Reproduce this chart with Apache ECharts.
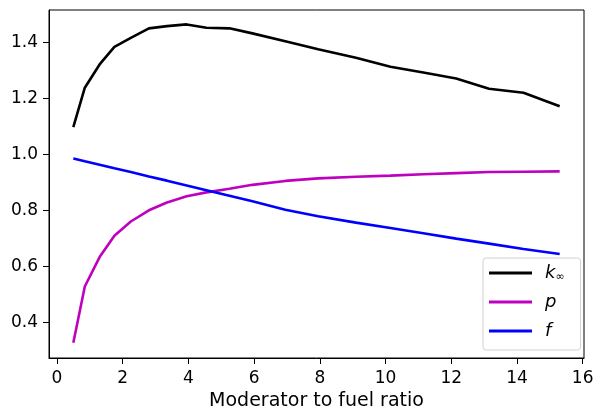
<!DOCTYPE html>
<html>
<head>
<meta charset="utf-8">
<script src="https://cdn.jsdelivr.net/npm/echarts@6/dist/echarts.min.js"></script>
<style>html,body{margin:0;padding:0;background:#fff}#c{width:599px;height:412px}</style>
</head>
<body>
<div id="c"></div>
<script>
const ratio = [0.5, 0.85, 1.3, 1.75, 2.25, 2.8, 3.35, 3.95, 4.55, 5.25, 5.95, 6.95, 7.95, 9.1, 10.15, 11.15, 12.15, 13.15, 14.2, 15.3];
const kInf = [1.098, 1.239, 1.322, 1.385, 1.417, 1.451, 1.459, 1.465, 1.453, 1.451, 1.433, 1.405, 1.376, 1.346, 1.314, 1.293, 1.272, 1.235, 1.221, 1.173];
const pVals = [0.328, 0.529, 0.634, 0.710, 0.761, 0.801, 0.829, 0.851, 0.865, 0.878, 0.892, 0.906, 0.915, 0.921, 0.925, 0.930, 0.934, 0.938, 0.939, 0.940];
const fVals = [0.986, 0.976, 0.964, 0.951, 0.938, 0.922, 0.907, 0.890, 0.873, 0.853, 0.833, 0.803, 0.780, 0.757, 0.738, 0.719, 0.700, 0.682, 0.663, 0.645];
const seriesNames = ['k∞', 'p', 'f'];
const xTicks = [0, 2, 4, 6, 8, 10, 12, 14, 16];
const yTicks = [0.4, 0.6, 0.8, 1.0, 1.2, 1.4];
const xLabel = 'Moderator to fuel ratio';

const font = 'DejaVu Sans';
const chart = echarts.init(document.getElementById('c'), null, {renderer: 'canvas'});
const pair = (ys) => ratio.map((x, i) => [x, ys[i]]);
const mk = (name, ys, color) => ({
  name, type: 'line', data: pair(ys), symbol: 'none', showSymbol: false,
  lineStyle: {color, width: 2.6}, itemStyle: {color}, animation: false
});
chart.setOption({
  animation: false,
  grid: {left: 49, right: 15, top: 10, bottom: 54, outerBoundsMode: 'none', containLabel: false, show: true, borderColor: '#000', borderWidth: 1, backgroundColor: 'transparent'},
  xAxis: {
    type: 'value', min: -0.24, max: 16.04,
    name: xLabel, nameLocation: 'middle', nameGap: 33,
    nameTextStyle: {fontFamily: font, fontSize: 19, color: '#000'},
    axisLine: {show: true, onZero: false, lineStyle: {color: '#000', width: 1}},
    axisTick: {show: true, length: 6, customValues: xTicks, lineStyle: {color: '#000', width: 1}},
    axisLabel: {customValues: xTicks, margin: 12, fontFamily: font, fontSize: 17, color: '#000'},
    splitLine: {show: false}
  },
  yAxis: {
    type: 'value', min: 0.2735, max: 1.5165,
    axisLine: {show: true, onZero: false, lineStyle: {color: '#000', width: 1}},
    axisTick: {show: true, length: 6, customValues: yTicks, lineStyle: {color: '#000', width: 1}},
    axisLabel: {customValues: yTicks, margin: 11, fontFamily: font, fontSize: 17, color: '#000', formatter: v => v.toFixed(1)},
    splitLine: {show: false}
  },
  legend: {
    orient: 'vertical', left: 483, top: 258,
    padding: [5, 16, 9, 6],
    backgroundColor: '#fff', borderColor: '#d0d0d0', borderWidth: 1, borderRadius: 3,
    icon: 'rect', itemWidth: 43, itemHeight: 3, itemGap: 9,
    data: seriesNames,
    formatter: n => n === 'k∞' ? '{i|k}{s|∞}' : '{i|' + n + '}',
    textStyle: {
      fontFamily: font, fontSize: 17, color: '#000', padding: [0, 0, 0, 8], lineHeight: 20,
      rich: {
        i: {fontFamily: font, fontSize: 18, fontStyle: 'italic', color: '#000', lineHeight: 20},
        s: {fontFamily: font, fontSize: 11, color: '#000', verticalAlign: 'bottom', padding: [8, 0, 0, 0]}
      }
    }
  },
  series: [
    mk(seriesNames[0], kInf, '#000000'),
    mk(seriesNames[1], pVals, '#bf00bf'),
    mk(seriesNames[2], fVals, '#0000ff')
  ]
});
</script>
</body>
</html>
